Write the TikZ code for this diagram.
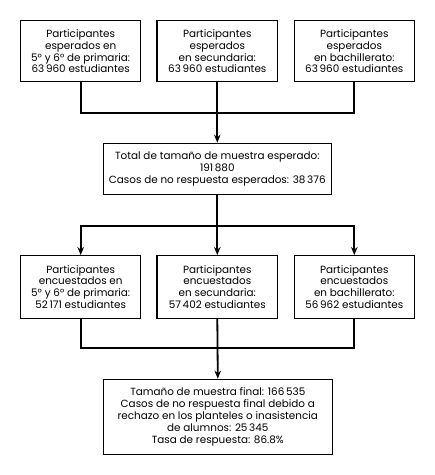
\documentclass[tikz,border=0pt]{standalone}
\usepackage{fontspec}
\setmainfont{Poppins}
\usetikzlibrary{arrows.meta}
\tikzset{
  box/.style={draw, line width=1.3pt, align=center, inner sep=0pt, font=\fontsize{10.4}{11.9}\selectfont},
  conn/.style={line width=1.8pt},
  arr/.style={conn, -{Stealth[length=8pt,width=6.5pt]}}
}
\begin{document}
\begin{tikzpicture}[x=1pt,y=1pt]
\useasboundingbox (0,0) rectangle (435,-475);
\node[box, minimum width=120pt, minimum height=61pt] (b1) at (80.7,-51.2) {Participantes\\esperados en\\5° y 6° de primaria:\\63\,960 estudiantes};
\node[box, minimum width=120.7pt, minimum height=61pt] (b2) at (217.3,-51.2) {Participantes\\esperados\\en secundaria:\\63\,960 estudiantes};
\node[box, minimum width=120pt, minimum height=61pt] (b3) at (354.3,-51.2) {Participantes\\esperados\\en bachillerato:\\63\,960 estudiantes};
\node[box, minimum width=227.7pt, minimum height=51pt] (c) at (217.3,-168.8) {Total de tamaño de muestra esperado:\\191\,880\\Casos de no respuesta esperados: 38\,376};
\node[box, minimum width=120pt, minimum height=62.6pt] (r1) at (80.7,-287) {Participantes\\encuestados en\\5° y 6° de primaria:\\52\,171 estudiantes};
\node[box, minimum width=120.7pt, minimum height=62.6pt] (r2) at (217.3,-287) {Participantes\\encuestados\\en secundaria:\\57\,402 estudiantes};
\node[box, minimum width=120pt, minimum height=62.6pt] (r3) at (354.3,-287) {Participantes\\encuestados\\en bachillerato:\\56\,962 estudiantes};
\node[box, minimum width=229pt, minimum height=75pt] (f) at (217.8,-416.8) {Tamaño de muestra final: 166\,535\\Casos de no respuesta final debido a\\rechazo en los planteles o inasistencia\\de alumnos: 25\,345\\Tasa de respuesta: 86.8\%};
\coordinate (j1) at (217.3,-112.7);
\coordinate (j2) at (217.3,-226);
\coordinate (j3) at (217.3,-348.3);
\draw[conn] (b1.south) |- (j1);
\draw[conn] (b3.south) |- (j1);
\draw[arr] (b2.south) -- (c.north);
\draw[conn] (c.south) -- (j2);
\draw[arr] (j2) -| (r1.north);
\draw[arr] (j2) -| (r3.north);
\draw[arr] (j2) -- (r2.north);
\draw[conn] (r1.south) |- (j3);
\draw[conn] (r3.south) |- (j3);
\draw[arr] (r2.south) -- (f.north);
\end{tikzpicture}
\end{document}
